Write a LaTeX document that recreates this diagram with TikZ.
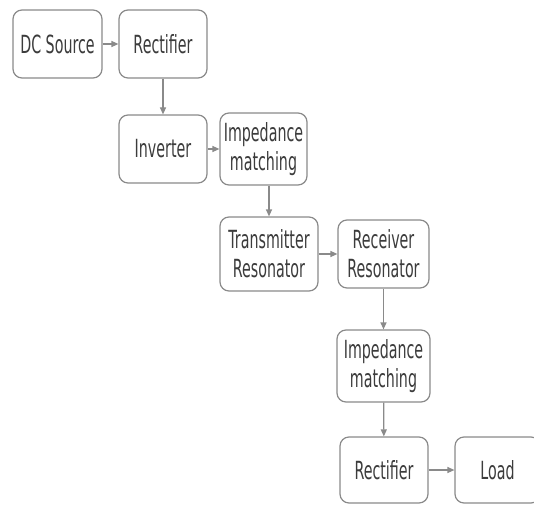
\documentclass[tikz,border=0pt]{standalone}
\usepackage{fontspec}
\setmainfont[FakeStretch=0.57]{DejaVu Sans}
\usetikzlibrary{arrows.meta}

\definecolor{boxline}{HTML}{8A8A8A}
\definecolor{boxtext}{HTML}{3C3C3C}

\tikzset{
    block/.style={draw=boxline, line width=1.2pt, rounded corners=9pt, fill=white,
        text=boxtext, align=center, inner sep=0pt,
        font=\fontsize{25}{29}\selectfont},
    flow/.style={draw=boxline, line width=1.2pt, -{Triangle[length=7pt,width=6pt]}}
}

\begin{document}
\begin{tikzpicture}[x=1pt,y=-1pt]
\useasboundingbox (0,0) rectangle (534,505);
\node[block, minimum width=89pt, minimum height=68pt] (dcsrc) at (57.5,44) {DC Source};
\node[block, minimum width=88pt, minimum height=68pt] (rect1) at (163,44) {Rectifier};
\node[block, minimum width=88pt, minimum height=68pt] (inv) at (163,149) {Inverter};
\node[block, minimum width=87pt, minimum height=72pt] (imp1) at (263.5,149) {Impedance\\matching};
\node[block, minimum width=98pt, minimum height=74pt] (tx) at (269,254) {Transmitter\\Resonator};
\node[block, minimum width=91pt, minimum height=68pt] (rx) at (383.5,254) {Receiver\\Resonator};
\node[block, minimum width=93pt, minimum height=72pt] (imp2) at (383.5,366) {Impedance\\matching};
\node[block, minimum width=88pt, minimum height=66pt] (rect2) at (384,470) {Rectifier};
\node[block, minimum width=85pt, minimum height=66pt] (load) at (497.5,470) {Load};

% forward path
\draw[flow] (dcsrc) -- (rect1);
\draw[flow] (rect1) -- (inv);
\draw[flow] (inv) -- (imp1);
\draw[flow] (tx.north |- imp1.south) -- (tx.north);
\draw[flow] (tx) -- (rx);
\draw[flow] (rx) -- (imp2);
\draw[flow] (imp2) -- (rect2);
\draw[flow] (rect2) -- (load);
\end{tikzpicture}
\end{document}
